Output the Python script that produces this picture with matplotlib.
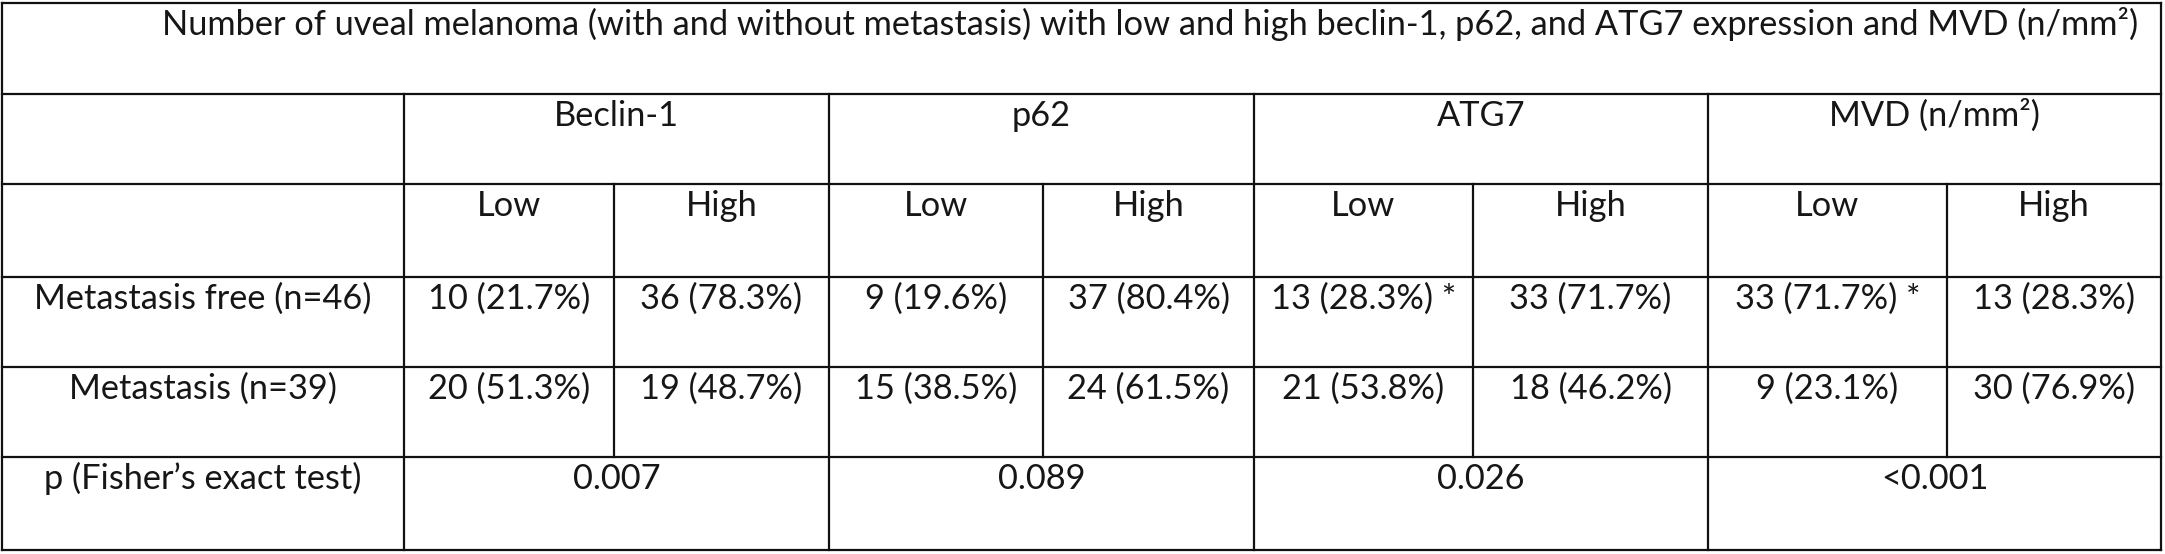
import matplotlib
matplotlib.use("Agg")
import matplotlib.pyplot as plt

# ---- data ----
title = "Number of uveal melanoma (with and without metastasis) with low and high beclin-1, p62, and ATG7 expression and MVD (n/mm²)"
markers = ["Beclin-1", "p62", "ATG7", "MVD (n/mm²)"]
levels = ["Low", "High"]
row_labels = ["Metastasis free (n=46)", "Metastasis (n=39)", "p (Fisher’s exact test)"]
free_counts = [10, 36, 9, 37, 13, 33, 33, 13]
free_pct = [21.7, 78.3, 19.6, 80.4, 28.3, 71.7, 71.7, 28.3]
free_flags = ["", "", "", "", " *", "", " *", ""]
met_counts = [20, 19, 15, 24, 21, 18, 9, 30]
met_pct = [51.3, 48.7, 38.5, 61.5, 53.8, 46.2, 23.1, 76.9]
met_flags = ["", "", "", "", "", "", "", ""]
p_values = ["0.007", "0.089", "0.026", "<0.001"]

# ---- layout (pixels) ----
W, H = 2165, 554
col_x = [2, 404, 614, 829, 1043, 1254, 1473, 1708, 1947, 2161]
row_y = [3, 94, 184, 277, 367, 457, 550]
FONT = "Lato"
TXT = "#161616"
LC = "#111111"
LW = 1.6
BASE = 32

fig = plt.figure(figsize=(W / 100, H / 100), dpi=100)
ax = fig.add_axes([0, 0, 1, 1])
ax.set_xlim(0, W)
ax.set_ylim(H, 0)
ax.axis("off")

# fit font size so title spans target width
t = ax.text(1150, row_y[0] + BASE, title, ha="center", va="baseline",
            fontsize=20, family=FONT, color=TXT)
fig.canvas.draw()
bb = t.get_window_extent()
fs = 20 * 1983 / bb.width
t.set_fontsize(fs)

def put(x, y, s):
    ax.text(x, y + BASE, s, ha="center", va="baseline", fontsize=fs, family=FONT, color=TXT)

# lines
L, R = col_x[0], col_x[-1]
for y in row_y:
    ax.plot([L, R], [y, y], color=LC, lw=LW, solid_capstyle="projecting")
ax.plot([L, L], [row_y[0], row_y[-1]], color=LC, lw=LW)
ax.plot([R, R], [row_y[0], row_y[-1]], color=LC, lw=LW)
for i in (1, 3, 5, 7):
    ax.plot([col_x[i], col_x[i]], [row_y[1], row_y[-1]], color=LC, lw=LW)
for i in (2, 4, 6, 8):
    ax.plot([col_x[i], col_x[i]], [row_y[2], row_y[5]], color=LC, lw=LW)

# marker headers
for k, m in enumerate(markers):
    cx = (col_x[1 + 2 * k] + col_x[3 + 2 * k]) / 2
    put(cx, row_y[1], m)
    put(cx, row_y[5], p_values[k])
# level headers and values
for j in range(8):
    cx = (col_x[1 + j] + col_x[2 + j]) / 2
    put(cx, row_y[2], levels[j % 2])
    put(cx, row_y[3], f"{free_counts[j]} ({free_pct[j]:.1f}%){free_flags[j]}")
    put(cx, row_y[4], f"{met_counts[j]} ({met_pct[j]:.1f}%){met_flags[j]}")
# row labels
lx = (col_x[0] + col_x[1]) / 2
for r, lab in enumerate(row_labels):
    put(lx, row_y[3 + r], lab)

fig.savefig("out.png", dpi=100, facecolor="white")
